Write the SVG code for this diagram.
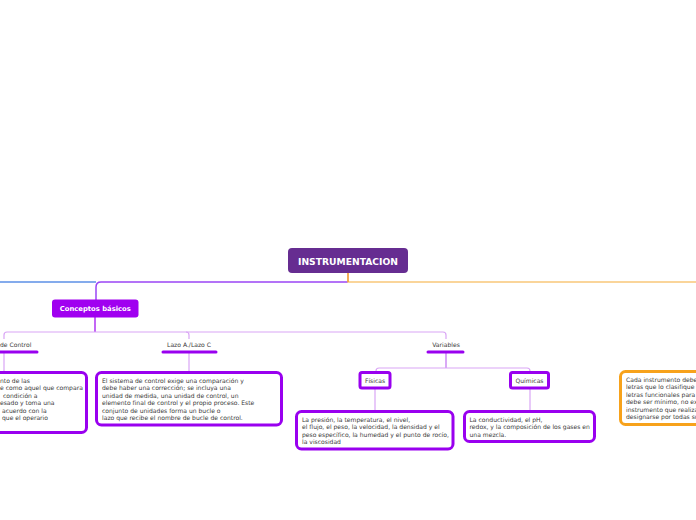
<svg xmlns="http://www.w3.org/2000/svg" width="696" height="520" viewBox="0 0 696 520">
<style>
.t{font-family:"DejaVu Sans",Verdana,sans-serif;font-size:6.05px;fill:#3a3a3a}
.lbl{font-family:"DejaVu Sans",Verdana,sans-serif;font-size:6.05px;fill:#3a3a3a;text-anchor:middle}
.box{fill:#fff;stroke:#9900ef;stroke-width:3}
.bar{stroke:#9900ef;stroke-width:3;stroke-linecap:round}
.lc{fill:none;stroke:#d9a5f5;stroke-width:1.2}
</style>
<rect width="696" height="520" fill="#fff"/>
<g id="connectors" fill="none">
<path d="M0 282 H96" stroke="#5b8fe6" stroke-width="1.5"/>
<path d="M348 282 H101 Q96 282 96 287 V300" stroke="#9b45f5" stroke-width="1.5"/>
<path d="M348 273 V282 H696" stroke="#f9c77a" stroke-width="1.5"/>
<path d="M348 273 V282" stroke="#f0922a" stroke-width="1.2"/>
<path d="M95 317 V332" stroke="#9b00ef" stroke-width="1.2"/>
<path class="lc" d="M4 339 V335 Q4 332 7 332 H443 Q446 332 446 335 V339"/>
<path class="lc" d="M186 332 Q189 332 189 335 V339"/>
<path class="lc" d="M4 353 V372"/>
<path class="lc" d="M189 353 V372"/>
<path d="M446 353 V368" stroke="#c070f0" stroke-width="1.2"/>
<path class="lc" d="M376 372 V371 Q376 368 379 368 H527 Q530 368 530 371 V372"/>
<path class="lc" d="M375 389 V411"/>
<path class="lc" d="M530 389 V411"/>
</g>
<g id="root">
<rect x="288" y="248" width="120" height="25" rx="4" fill="#662d91"/>
<text x="348" y="265" text-anchor="middle" font-family="DejaVu Sans,Verdana,sans-serif" font-weight="bold" font-size="9.2" fill="#fff">INSTRUMENTACION</text>
</g>
<g id="conceptos">
<rect x="52" y="299.5" width="86.5" height="18" rx="3" fill="#a000f0"/>
<text x="95.3" y="311.2" text-anchor="middle" font-family="DejaVu Sans,Verdana,sans-serif" font-weight="bold" font-size="6.8" fill="#fff">Conceptos básicos</text>
</g>
<g id="decontrol">
<text class="t" x="0" y="347">de Control</text>
<line class="bar" x1="0" y1="352" x2="37" y2="352"/>
</g>
<g id="lazo">
<text class="lbl" x="189" y="347">Lazo A./Lazo C</text>
<line class="bar" x1="163" y1="352" x2="216" y2="352"/>
</g>
<g id="variables">
<text class="lbl" x="446" y="347">Variables</text>
<line class="bar" x1="428" y1="352" x2="463" y2="352"/>
</g>
<g id="defbox">
<rect class="box" x="-20" y="372.5" width="106.5" height="60" rx="5"/>
<text class="t" x="0" y="382.5">nto de las</text>
<text class="t" x="0" y="390">e como aquel que compara</text>
<text class="t" x="3" y="397.5">condición a</text>
<text class="t" x="0" y="405">esado y toma una</text>
<text class="t" x="2" y="412.5">acuerdo con la</text>
<text class="t" x="2" y="420">que el operario</text>
</g>
<g id="lazobox">
<rect class="box" x="96.5" y="372.5" width="185" height="52.5" rx="5"/>
<text class="t" x="102" y="382.5">El sistema de control exige una comparación y</text>
<text class="t" x="102" y="390">debe haber una corrección; se incluya una</text>
<text class="t" x="102" y="397.5">unidad de medida, una unidad de control, un</text>
<text class="t" x="102" y="405">elemento final de control y el propio proceso. Este</text>
<text class="t" x="102" y="412.5">conjunto de unidades forma un bucle o</text>
<text class="t" x="102" y="420">lazo que recibe el nombre de bucle de control.</text>
</g>
<g id="fisicas">
<rect class="box" x="360" y="372.5" width="30" height="15.5" rx="2"/>
<text class="lbl" x="375" y="382.5">Físicas</text>
</g>
<g id="quimicas">
<rect class="box" x="510.5" y="372.5" width="38" height="15.5" rx="2"/>
<text class="lbl" x="529.5" y="382.5">Químicas</text>
</g>
<g id="fisbox">
<rect class="box" x="296.5" y="411.5" width="156.5" height="37.5" rx="5"/>
<text class="t" x="302" y="421.5">La presión, la temperatura, el nivel,</text>
<text class="t" x="302" y="429">el flujo, el peso, la velocidad, la densidad y el</text>
<text class="t" x="302" y="436.5">peso específico, la humedad y el punto de rocío,</text>
<text class="t" x="302" y="444">la viscosidad</text>
</g>
<g id="quibox">
<rect class="box" x="464.5" y="411.5" width="130" height="30" rx="5"/>
<text class="t" x="469.5" y="421.5">La conductividad, el pH,</text>
<text class="t" x="469.5" y="429">redox, y la composición de los gases en</text>
<text class="t" x="469.5" y="436.5">una mezcla.</text>
</g>
<g id="orangebox">
<rect x="620.5" y="371.5" width="100" height="53" rx="5" fill="#fff" stroke="#f7a21b" stroke-width="3"/>
<text class="t" x="626" y="381.5">Cada instrumento debe</text>
<text class="t" x="626" y="389">letras que lo clasifique</text>
<text class="t" x="626" y="396.5">letras funcionales para</text>
<text class="t" x="626" y="404">debe ser mínimo, no ex</text>
<text class="t" x="626" y="411.5">instrumento que realiza</text>
<text class="t" x="626" y="419">designarse por todas su</text>
</g>
</svg>
